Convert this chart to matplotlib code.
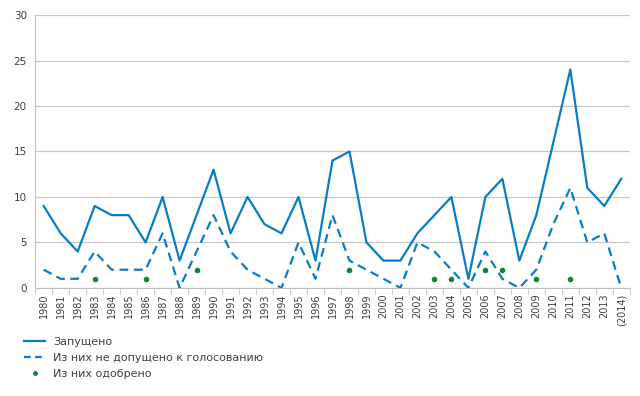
import numpy as np
import matplotlib.pyplot as plt
from matplotlib.lines import Line2D

years = [str(y) for y in range(1980, 2014)] + ['(2014)']

launched = [9, 6, 4, 9, 8, 8, 5, 10, 3, 8, 13, 6, 10, 7, 6, 10, 3, 14, 15, 5,
            3, 3, 6, 8, 10, 1, 10, 12, 3, 8, 16, 24, 11, 9, 12]
not_admitted = [2, 1, 1, 4, 2, 2, 2, 6, 0, 4, 8, 4, 2, 1, 0, 5, 1, 8, 3, 2,
                1, 0, 5, 4, 2, 0, 4, 1, 0, 2, 7, 11, 5, 6, 0]
approved_years = ['1983', '1986', '1989', '1998', '2003', '2004', '2006', '2007', '2009', '2011']
approved = [1, 1, 2, 2, 1, 1, 2, 2, 1, 1]

blue = '#0a7cc4'
green = '#12843a'

fig = plt.figure(figsize=(6.4, 3.96), dpi=100)
ax = fig.add_axes([0.055, 0.273, 0.929, 0.689])

x = np.arange(len(years))
ax.plot(x, launched, color=blue, lw=1.6)
ax.plot(x, not_admitted, color=blue, lw=1.6, ls=(0, (4, 2.5)))
ax.plot([years.index(y) for y in approved_years], approved, 'o', color=green, ms=4, mec='none')

ax.set_xlim(-0.5, len(years) - 0.5)
ax.set_ylim(0, 30)
ax.set_yticks(range(0, 31, 5))
ax.yaxis.grid(True, color='#c8c8c8', lw=0.9)
ax.set_axisbelow(True)

ax.set_xticks(x)
ax.set_xticklabels(years, rotation=90, fontsize=7)
ax.set_xticks(np.arange(-0.5, len(years), 1), minor=True)
ax.tick_params(axis='x', which='major', length=0, pad=4)
ax.tick_params(axis='x', which='minor', length=4, color='#bfbfbf')
ax.tick_params(axis='y', length=0, labelsize=7.5, colors='#404040', pad=6)
ax.tick_params(axis='x', colors='#404040')

for s in ['top', 'right']:
    ax.spines[s].set_visible(False)
for s in ['left', 'bottom']:
    ax.spines[s].set_color('#bfbfbf')

handles = [Line2D([], [], color=blue, lw=1.6),
           Line2D([], [], color=blue, lw=1.6, ls=(0, (3, 2))),
           Line2D([], [], color=green, marker='o', ms=3.5, ls='none', mec='none')]
labels = ['Запущено', 'Из них не допущено к голосованию', 'Из них одобрено']
fig.legend(handles, labels, loc='upper left', bbox_to_anchor=(0.022, 0.175),
           frameon=False, fontsize=8, handlelength=1.9, handletextpad=0.7,
           labelspacing=0.55, labelcolor='#404040')

fig.savefig('out.png', dpi=100)
